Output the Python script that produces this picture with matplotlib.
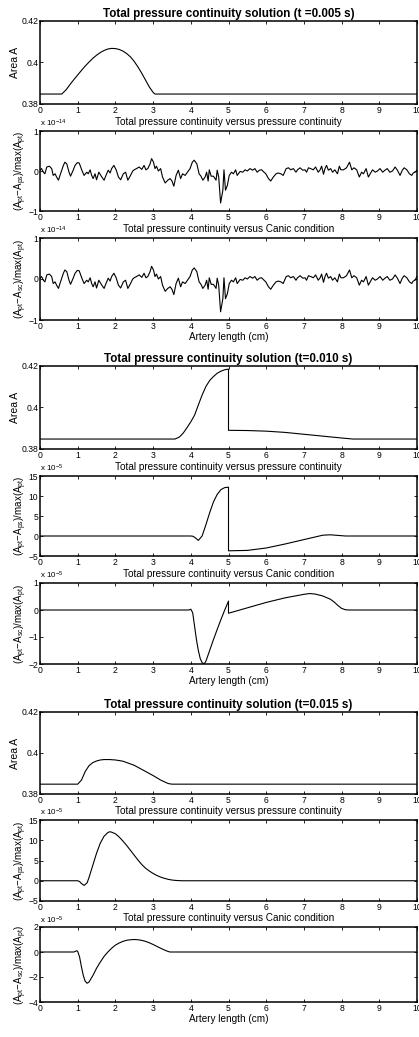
import matplotlib
matplotlib.use("Agg")
import matplotlib.pyplot as plt

plt.rcParams['font.family'] = ['Liberation Sans', 'DejaVu Sans']
plt.rcParams['mathtext.default'] = 'regular'

# ---- t = 0.005 s ----
area_005_x = [0.0, 0.58, 0.6, 0.7, 0.8, 0.9, 1.0, 1.1, 1.2, 1.3, 1.4, 1.5, 1.6, 1.7, 1.8, 1.9,
              2.0, 2.1, 2.2, 2.3, 2.4, 2.5, 2.6, 2.7, 2.8, 2.9, 3.0, 3.05, 10.0]
area_005_y = [0.3848, 0.3848, 0.3852, 0.3870, 0.3895, 0.3918, 0.3940, 0.3962, 0.3983, 0.4002,
              0.4020, 0.4035, 0.4048, 0.4058, 0.4065, 0.4068, 0.4067, 0.4063, 0.4055, 0.4043,
              0.4027, 0.4005, 0.3978, 0.3948, 0.3915, 0.3882, 0.3856, 0.3848, 0.3848]

# round-off differences, in units of 1e-14
noise_x = [0.00, 0.04, 0.09, 0.13, 0.18, 0.25, 0.31, 0.35, 0.40, 0.44, 0.49, 0.53, 0.62, 0.66,
           0.71, 0.77, 0.81, 0.88, 0.93, 0.99, 1.04, 1.11, 1.17, 1.24, 1.28, 1.33, 1.37, 1.41,
           1.46, 1.50, 1.56, 1.64, 1.70, 1.75, 1.81, 1.86, 1.90, 1.96, 2.02, 2.08, 2.14, 2.21,
           2.27, 2.33, 2.39, 2.46, 2.50, 2.56, 2.63, 2.70, 2.76, 2.81, 2.86, 2.92, 2.96, 3.01,
           3.05, 3.09, 3.14, 3.20, 3.25, 3.32, 3.39, 3.45, 3.50, 3.55, 3.61, 3.67, 3.73, 3.78,
           3.85, 3.91, 3.98, 4.04, 4.09, 4.16, 4.22, 4.27, 4.32, 4.38, 4.42, 4.46, 4.49, 4.54,
           4.60, 4.67, 4.70, 4.74, 4.79, 4.85, 4.88, 4.92, 4.97, 5.02, 5.08, 5.13, 5.19, 5.23,
           5.31, 5.38, 5.44, 5.50, 5.57, 5.64, 5.70, 5.76, 5.82, 5.88, 5.92, 5.99, 6.06, 6.12,
           6.19, 6.26, 6.32, 6.39, 6.45, 6.53, 6.59, 6.65, 6.72, 6.79, 6.83, 6.90, 6.97, 7.03,
           7.07, 7.12, 7.18, 7.25, 7.31, 7.38, 7.43, 7.47, 7.52, 7.56, 7.60, 7.65, 7.71, 7.76,
           7.82, 7.89, 7.94, 7.98, 8.05, 8.13, 8.21, 8.27, 8.33, 8.40, 8.47, 8.53, 8.58, 8.65,
           8.71, 8.77, 8.82, 8.89, 8.95, 9.02, 9.09, 9.15, 9.21, 9.28, 9.35, 9.42, 9.48, 9.55,
           9.61, 9.66, 9.73, 9.80, 9.86, 9.90, 9.95, 10.0]
noise_aps = [0.02, 0.06, -0.03, -0.07, 0.10, 0.12, 0.06, -0.11, -0.07, -0.15, -0.23, -0.11, 0.14,
             0.22, 0.18, -0.03, -0.13, 0.02, 0.14, 0.21, 0.20, 0.02, -0.11, -0.03, -0.07, 0.03,
             -0.11, -0.19, -0.07, -0.22, -0.03, -0.15, -0.23, -0.11, 0.02, -0.05, 0.06, 0.14,
             0.03, -0.15, -0.22, -0.07, -0.03, -0.23, -0.13, 0.00, 0.03, 0.06, 0.10, 0.04, 0.14,
             0.03, 0.06, 0.18, 0.31, 0.22, 0.06, 0.12, 0.00, 0.06, -0.15, -0.30, -0.23, -0.19,
             -0.25, -0.38, -0.11, 0.02, -0.19, -0.07, -0.11, -0.03, 0.06, 0.22, 0.27, 0.18,
             -0.07, -0.13, -0.23, -0.15, -0.03, -0.25, 0.03, -0.13, -0.13, -0.23, 0.02, -0.15,
             -0.80, -0.48, 0.03, -0.48, -0.36, -0.11, -0.03, -0.07, 0.03, -0.11, -0.01, -0.03,
             0.03, 0.00, 0.06, 0.02, 0.06, -0.03, 0.02, 0.03, -0.01, -0.07, -0.19, -0.25, -0.15,
             -0.07, -0.05, -0.07, -0.11, 0.06, 0.08, 0.03, 0.06, -0.03, 0.03, 0.08, 0.02, 0.03,
             -0.03, 0.08, 0.06, 0.03, 0.10, -0.03, 0.03, 0.12, -0.08, 0.06, 0.14, 0.02, 0.06,
             -0.03, 0.03, -0.07, 0.12, 0.03, 0.03, 0.08, 0.22, 0.03, 0.08, 0.03, -0.15, -0.03,
             -0.07, 0.06, -0.15, -0.05, 0.03, -0.03, 0.00, 0.06, -0.03, 0.02, 0.06, -0.03, 0.00,
             0.10, 0.02, -0.11, 0.02, 0.08, 0.03, -0.07, -0.11, -0.05, -0.03, 0.02]
noise_asc = noise_aps[:-1] + [0.07]

# ---- t = 0.010 s ----
area_010_x = [0.0, 3.58, 3.7, 3.8, 3.9, 4.0, 4.1, 4.2, 4.3, 4.4, 4.5, 4.6, 4.7, 4.8, 4.9, 5.0,
              5.0, 5.5, 6.0, 6.5, 7.0, 7.5, 8.0, 8.3, 10.0]
area_010_y = [0.3848, 0.3848, 0.3858, 0.3877, 0.3903, 0.3931, 0.3963, 0.4012, 0.4060, 0.4101,
              0.4130, 0.4149, 0.4165, 0.4175, 0.4182, 0.4185, 0.3890, 0.3889, 0.3886, 0.3880,
              0.3871, 0.3862, 0.3853, 0.3848, 0.3848]

aps_010_x = [0.0, 4.0, 4.05, 4.1, 4.2, 4.3, 4.4, 4.5, 4.6, 4.7, 4.8, 4.9, 5.0, 5.0, 5.5, 6.0,
             6.5, 7.0, 7.5, 7.7, 7.9, 8.1, 10.0]
aps_010_y = [0.0, 0.0, -0.05, -0.3, -1.1, 0.0, 2.8, 5.8, 8.5, 10.4, 11.6, 12.1, 12.2, -3.7,
             -3.6, -3.0, -2.0, -0.9, 0.2, 0.3, 0.15, 0.0, 0.0]

asc_010_x = [0.0, 3.95, 4.0, 4.05, 4.1, 4.15, 4.2, 4.25, 4.3, 4.35, 4.4, 4.5, 4.6, 4.7, 4.8,
             4.9, 5.0, 5.0, 5.5, 6.0, 6.5, 7.0, 7.15, 7.3, 7.5, 7.7, 7.8, 7.9, 8.0, 8.1, 8.2, 10.0]
asc_010_y = [0.0, 0.0, 0.03, -0.1, -0.6, -1.1, -1.5, -1.8, -1.95, -2.0, -1.9, -1.5, -1.1, -0.72,
             -0.35, 0.0, 0.33, -0.12, 0.08, 0.28, 0.45, 0.58, 0.61, 0.59, 0.52, 0.40, 0.30,
             0.17, 0.06, 0.01, 0.0, 0.0]

# ---- t = 0.015 s ----
area_015_x = [0.0, 1.0, 1.1, 1.2, 1.3, 1.4, 1.5, 1.6, 1.7, 1.85, 2.0, 2.2, 2.5, 2.8, 3.0, 3.2,
              3.4, 3.5, 10.0]
area_015_y = [0.3848, 0.3848, 0.3868, 0.3910, 0.3938, 0.3953, 0.3961, 0.3966, 0.3968, 0.3968,
              0.3966, 0.3960, 0.3940, 0.3910, 0.3890, 0.3868, 0.3851, 0.3848, 0.3848]

aps_015_x = [0.0, 1.0, 1.05, 1.1, 1.17, 1.25, 1.3, 1.4, 1.5, 1.6, 1.7, 1.8, 1.85, 1.9, 2.0,
             2.1, 2.2, 2.3, 2.4, 2.5, 2.6, 2.7, 2.8, 2.9, 3.0, 3.1, 3.2, 3.3, 3.4, 3.5, 3.6,
             3.7, 3.8, 10.0]
aps_015_y = [0.0, 0.0, -0.2, -0.7, -1.15, -0.5, 0.8, 3.8, 6.8, 9.3, 11.0, 11.9, 12.1, 12.0,
             11.6, 10.8, 9.8, 8.7, 7.5, 6.3, 5.1, 4.0, 3.1, 2.4, 1.8, 1.3, 0.9, 0.6, 0.35,
             0.18, 0.08, 0.02, 0.0, 0.0]

asc_015_x = [0.0, 0.9, 0.97, 1.0, 1.05, 1.1, 1.15, 1.2, 1.25, 1.3, 1.4, 1.5, 1.6, 1.7, 1.8,
             1.9, 2.0, 2.1, 2.2, 2.3, 2.4, 2.5, 2.6, 2.7, 2.8, 2.9, 3.0, 3.1, 3.2, 3.3, 3.4,
             3.45, 10.0]
asc_015_y = [0.0, 0.0, 0.1, 0.05, -0.4, -1.2, -1.9, -2.35, -2.5, -2.4, -1.9, -1.3, -0.8, -0.35,
             0.0, 0.3, 0.55, 0.72, 0.85, 0.94, 0.98, 1.0, 0.98, 0.93, 0.85, 0.74, 0.6, 0.45,
             0.3, 0.16, 0.04, 0.0, 0.0]

times = ['t =0.005 s', 't=0.010 s', 't=0.015 s']
x_ticks = list(range(11))
area_ticks = [0.38, 0.4, 0.42]
area_tick_labels = ['0.38', '0.4', '0.42']

LBL_PS = '(A$_{pt}$\u2212A$_{ps}$)/max(A$_{pt}$)'
LBL_SC = '(A$_{pt}$\u2212A$_{sc}$)/max(A$_{pt}$)'
SUB_PS = 'Total pressure continuity versus pressure continuity'
SUB_SC = 'Total pressure continuity versus Canic condition'

W, H = 419, 1037
fig = plt.figure(figsize=(W / 100, H / 100), dpi=100)

# axes boxes as (top, bottom) in pixels
boxes = [(21, 104), (131, 211), (238, 320),
         (366, 449), (476, 556), (583, 664),
         (712, 794), (820, 901), (927, 1002)]
LEFT, RIGHT = 40, 417


def make_axes(top, bottom):
    ax = fig.add_axes([LEFT / W, 1 - bottom / H, (RIGHT - LEFT) / W, (bottom - top) / H])
    ax.set_xlim(0, 10)
    ax.set_xticks(x_ticks)
    ax.tick_params(direction='in', length=2.5, width=0.6, labelsize=6.2, pad=1.2,
                   top=True, right=True)
    for s in ax.spines.values():
        s.set_linewidth(1.1)
    return ax


def line(ax, x, y):
    ax.plot(x, y, color='black', lw=0.8)


def sci_label(ax, exp):
    ax.text(0.0, 1.02, 'x 10$^{%d}$' % exp, transform=ax.transAxes,
            fontsize=5.8, ha='left', va='bottom')


def diff_ticks(ax, ticks):
    ax.set_ylim(ticks[0], ticks[-1])
    ax.set_yticks(ticks)
    ax.set_yticklabels([str(t).replace('-', '\u2212') for t in ticks])


groups = [
    (area_005_x, area_005_y, noise_x, noise_aps, noise_x, noise_asc, -14,
     [-1, 0, 1], [-1, 0, 1]),
    (area_010_x, area_010_y, aps_010_x, aps_010_y, asc_010_x, asc_010_y, -5,
     [-5, 0, 5, 10, 15], [-2, -1, 0, 1]),
    (area_015_x, area_015_y, aps_015_x, aps_015_y, asc_015_x, asc_015_y, -5,
     [-5, 0, 5, 10, 15], [-4, -2, 0, 2]),
]

for g, (ax_, ay_, px_, py_, cx_, cy_, exp, ticks_ps, ticks_sc) in enumerate(groups):
    # area profile
    ax = make_axes(*boxes[3 * g])
    line(ax, ax_, ay_)
    ax.set_ylim(0.38, 0.42)
    ax.set_yticks(area_ticks)
    ax.set_yticklabels(area_tick_labels)
    ax.set_ylabel('Area A', fontsize=7.5, labelpad=1)
    ax.set_title('Total pressure continuity solution (%s)' % times[g],
                 fontsize=8.4, fontweight='bold', pad=3)

    # versus pressure continuity
    ax = make_axes(*boxes[3 * g + 1])
    line(ax, px_, py_)
    diff_ticks(ax, ticks_ps)
    ax.set_ylabel(LBL_PS, fontsize=7, labelpad=-0.5)
    ax.set_title(SUB_PS, fontsize=7.2, pad=4.5)
    sci_label(ax, exp)

    # versus Canic condition
    ax = make_axes(*boxes[3 * g + 2])
    line(ax, cx_, cy_)
    diff_ticks(ax, ticks_sc)
    ax.set_ylabel(LBL_SC, fontsize=7, labelpad=-0.5)
    ax.set_title(SUB_SC, fontsize=7.2, pad=4.5)
    ax.set_xlabel('Artery length (cm)', fontsize=7.2, labelpad=1)
    sci_label(ax, exp)

fig.savefig('out.png', dpi=100)
